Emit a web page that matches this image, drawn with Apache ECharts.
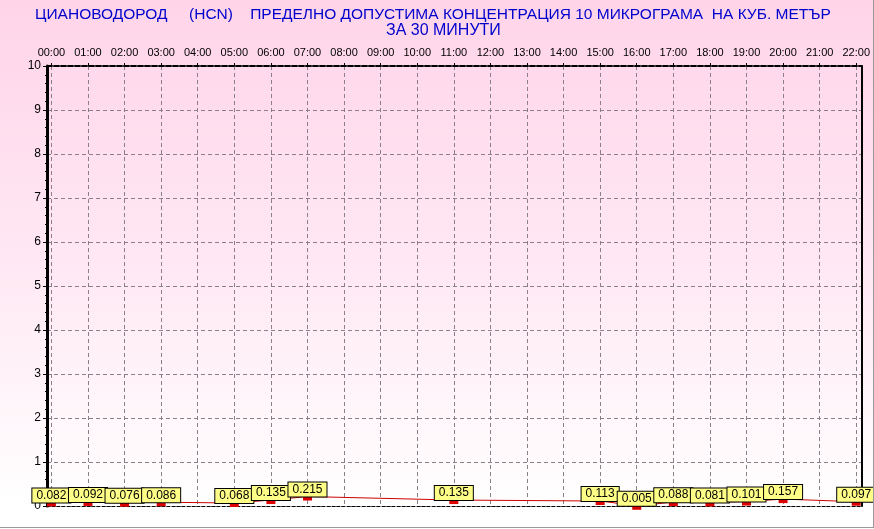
<!DOCTYPE html>
<html>
<head>
<meta charset="utf-8">
<script src="https://cdn.jsdelivr.net/npm/echarts@6/dist/echarts.min.js"></script>
<style>
html,body{margin:0;padding:0;background:#fff;}
#c{width:873px;height:527px;border-right:1px solid #999;border-bottom:1px solid #999;}
</style>
</head>
<body>
<div id="c"></div>
<script>
// Data
const titleLine1 = 'ЦИАНОВОДОРОД     (HCN)    ПРЕДЕЛНО ДОПУСТИМА КОНЦЕНТРАЦИЯ 10 МИКРОГРАМА  НА КУБ. МЕТЪР';
const titleLine2 = 'ЗА 30 МИНУТИ';
const hours = [0,1,2,3,4,5,6,7,8,9,10,11,12,13,14,15,16,17,18,19,20,21,22];
const hourLabels = ['00:00','01:00','02:00','03:00','04:00','05:00','06:00','07:00','08:00','09:00','10:00','11:00','12:00','13:00','14:00','15:00','16:00','17:00','18:00','19:00','20:00','21:00','22:00'];
const values = [0.082,0.092,0.076,0.086,null,0.068,0.135,0.215,null,null,null,0.135,null,null,null,0.113,0.005,0.088,0.081,0.101,0.157,null,0.097];
const yTicks = [0,1,2,3,4,5,6,7,8,9,10];

const seriesData = hours.map((h,i)=>[h, values[i]]);
const font = 'Liberation Sans, Arial, sans-serif';

const chart = echarts.init(document.getElementById('c'));
chart.setOption({
  animation:false,
  backgroundColor: new echarts.graphic.LinearGradient(0,0,0,1,[
    {offset:0,color:'#FFD4E9'},
    {offset:0.5,color:'#FFE8F3'},
    {offset:0.96,color:'#FFFFFF'},
    {offset:1,color:'#FFFFFF'}
  ]),
  title:[
    {text:titleLine1,left:35,top:6,textStyle:{color:'#0000cc',fontSize:15.5,fontWeight:'normal',fontFamily:font,lineHeight:17},padding:0},
    {text:titleLine2,left:386,top:22,textStyle:{color:'#0000cc',fontSize:16,fontWeight:'normal',fontFamily:font,lineHeight:17},padding:0}
  ],
  grid:{left:47,right:9,top:66,bottom:21,containLabel:false},
  xAxis:[
    {type:'value',position:'top',min:-0.12,max:22.14,
     axisLine:{show:true,onZero:false,lineStyle:{color:'#000',width:2,type:[5,2]}},
     axisTick:{show:true,customValues:hours,length:3,lineStyle:{color:'#000'}},
     axisLabel:{show:true,customValues:hours,formatter:(v)=>hourLabels[hours.indexOf(v)]||'',color:'#000',fontSize:11,fontFamily:font,margin:8},
     splitLine:{show:true,lineStyle:{color:'#8a7f8a',type:[4,3],width:1}}
    },
    {type:'value',position:'bottom',min:-0.12,max:22.14,
     axisLine:{show:true,onZero:false,lineStyle:{color:'#000',width:1,type:[3,2]}},
     axisTick:{show:false},axisLabel:{show:false},splitLine:{show:false}
    }
  ],
  yAxis:[
    {type:'value',position:'left',min:0,max:10,interval:1,
     axisLine:{show:true,onZero:false,lineStyle:{color:'#000',width:3}},
     axisTick:{show:true,length:4,lineStyle:{color:'#000'}},
     minorTick:{show:true,splitNumber:5,length:2,lineStyle:{color:'#000'}},
     axisLabel:{color:'#000',fontSize:12,fontFamily:font,margin:6,formatter:(v)=>String(v)},
     splitLine:{show:true,lineStyle:{color:'#8a7f8a',type:[4,3],width:1}}
    },
    {type:'value',position:'right',min:0,max:10,
     axisLine:{show:true,onZero:false,lineStyle:{color:'#000',width:2}},
     axisTick:{show:false},axisLabel:{show:false},splitLine:{show:false}
    }
  ],
  series:[{
    type:'line',
    data:seriesData,
    connectNulls:true,
    showAllSymbol:true,
    symbol:'rect',
    symbolSize:[9,4],
    symbolOffset:[0,2],
    lineStyle:{color:'#cc0000',width:1},
    itemStyle:{color:'#dd0000'},
    label:{
      show:true,position:'top',distance:0,
      formatter:(p)=>p.value[1].toFixed(3),
      color:'#000',fontSize:12,fontFamily:font,lineHeight:12,
      backgroundColor:'#FFFF88',borderColor:'#000',borderWidth:1,padding:[1,4]
    },
    emphasis:{disabled:true},
    z:3
  }]
});
</script>
</body>
</html>
